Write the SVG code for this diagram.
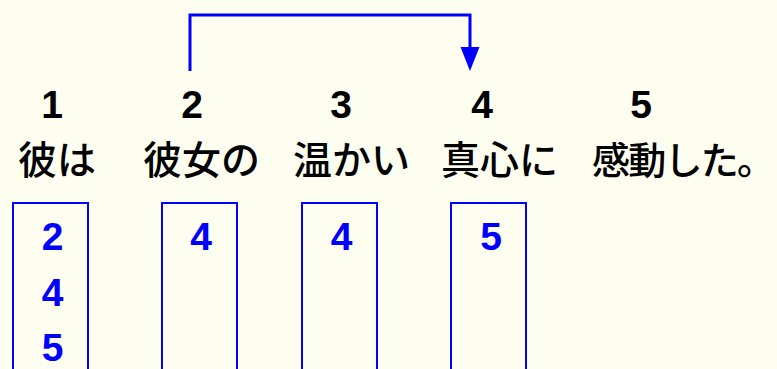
<svg xmlns="http://www.w3.org/2000/svg" width="777" height="369" viewBox="0 0 777 369">
  <style>
    .num { font-family: "Liberation Sans", Arial, sans-serif; font-weight: bold; font-size: 39px; fill: #000; text-anchor: middle; }
    .word { font-family: "Noto Sans CJK JP", "Noto Sans CJK SC", sans-serif; font-size: 39px; font-weight: 500; fill: #000; }
    .box { fill: none; stroke: #0000ff; stroke-width: 2; }
    .dep { font-family: "Liberation Sans", Arial, sans-serif; font-weight: bold; font-size: 39px; fill: #0000ff; text-anchor: middle; }
    .conn { fill: none; stroke: #0000ff; stroke-width: 3; }
  </style>
  <rect width="777" height="369" fill="#fdfef0"/>
  <g id="connectors">
    <path class="conn" d="M190,71 L190,15 L470,15 L470,50"/>
    <path d="M460.5,47 L479.5,47 L470,71 Z" fill="#0000ff"/>
  </g>
  <g id="node1">
    <text class="num" x="52" y="118">1</text>
    <text class="word" x="18" y="174">彼は</text>
    <rect class="box" x="13" y="203" width="75" height="180"/>
    <text class="dep" x="52.5" y="250">2</text>
    <text class="dep" x="52.5" y="306">4</text>
    <text class="dep" x="52.5" y="361">5</text>
  </g>
  <g id="node2">
    <text class="num" x="192" y="118">2</text>
    <text class="word" x="143" y="174">彼女の</text>
    <rect class="box" x="162" y="203" width="75" height="180"/>
    <text class="dep" x="201" y="250">4</text>
  </g>
  <g id="node3">
    <text class="num" x="341" y="118">3</text>
    <text class="word" x="293" y="174">温かい</text>
    <rect class="box" x="302" y="203" width="75" height="180"/>
    <text class="dep" x="341.5" y="250">4</text>
  </g>
  <g id="node4">
    <text class="num" x="482" y="118">4</text>
    <text class="word" x="441" y="174">真心に</text>
    <rect class="box" x="451" y="203" width="75" height="180"/>
    <text class="dep" x="491" y="250">5</text>
  </g>
  <g id="node5">
    <text class="num" x="641" y="118">5</text>
    <text class="word" x="592" y="174" style="font-size:38px" textLength="183" lengthAdjust="spacing">感動した。</text>
  </g>
</svg>
